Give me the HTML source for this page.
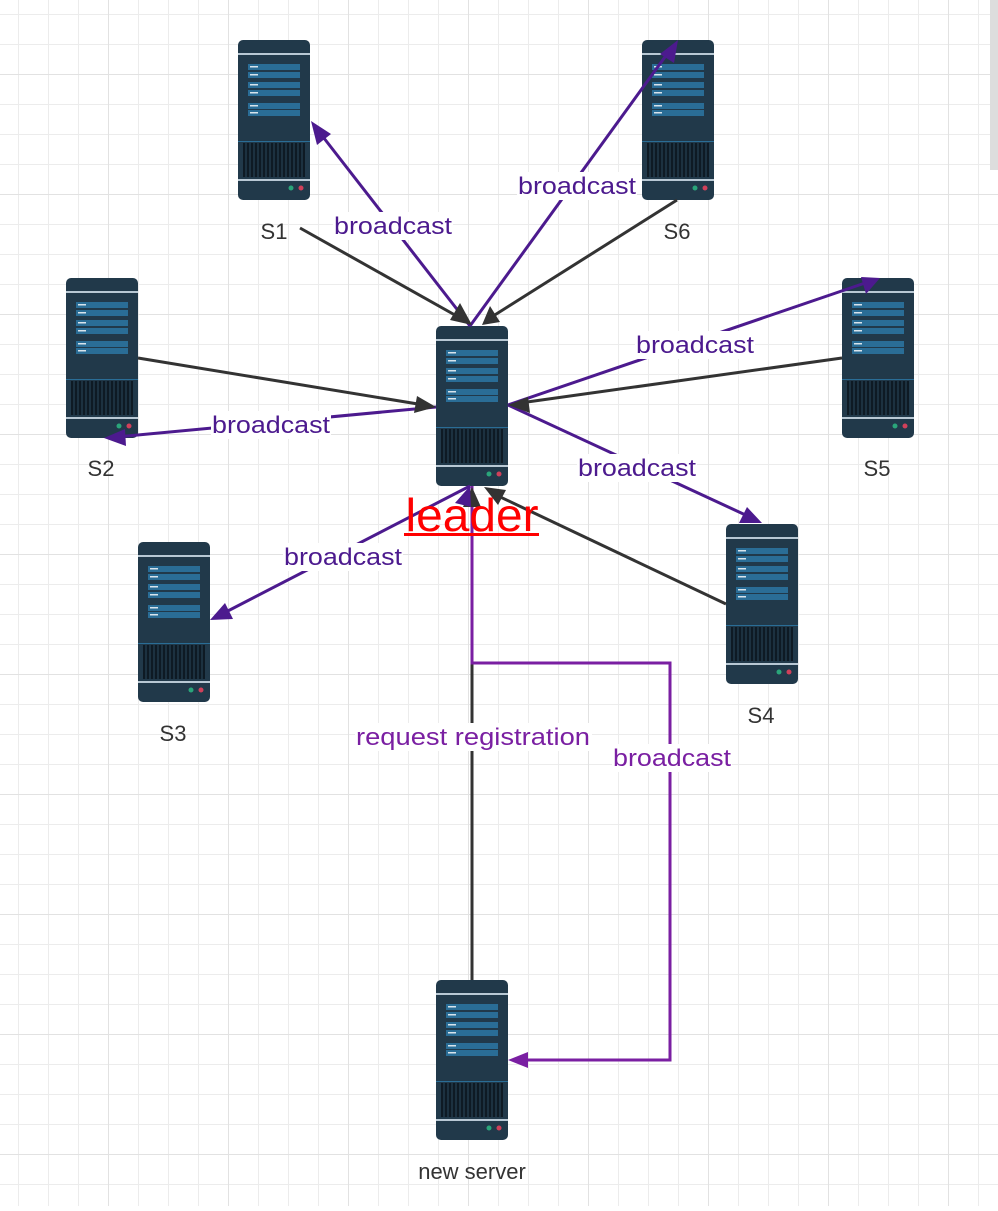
<!DOCTYPE html>
<html><head><meta charset="utf-8"><style>
html,body{margin:0;padding:0;background:#fff;}
body{width:998px;height:1206px;overflow:hidden;font-family:"Liberation Sans",sans-serif;}
</style></head><body>
<svg width="998" height="1206" viewBox="0 0 998 1206" xmlns="http://www.w3.org/2000/svg" font-family="Liberation Sans, sans-serif">
<defs>
<pattern id="g" x="18" y="14" width="30" height="30" patternUnits="userSpaceOnUse">
<path d="M0 0V30M0 0H30" stroke="#ececec" stroke-width="2" fill="none"/>
</pattern>
<pattern id="G" x="108" y="74" width="120" height="120" patternUnits="userSpaceOnUse">
<path d="M0 0V120M0 0H120" stroke="#e2e2e2" stroke-width="2" fill="none"/>
</pattern>
<symbol id="srv" viewBox="0 0 72 160">
<rect x="0" y="0" width="72" height="160" rx="5" fill="#21394a"/>
<rect x="0" y="13" width="72" height="2" fill="#b8c8d4"/>
<g fill="#2a6d96">
<rect x="10" y="24" width="52" height="6"/><rect x="10" y="32" width="52" height="6"/>
<rect x="10" y="42" width="52" height="6"/><rect x="10" y="50" width="52" height="6"/>
<rect x="10" y="63" width="52" height="6"/><rect x="10" y="70" width="52" height="6"/>
</g>
<g fill="#d8e4ec">
<rect x="12" y="26" width="8" height="1.5"/><rect x="12" y="34" width="8" height="1.5"/>
<rect x="12" y="44" width="8" height="1.5"/><rect x="12" y="52" width="8" height="1.5"/>
<rect x="12" y="65" width="8" height="1.5"/><rect x="12" y="72" width="8" height="1.5"/>
</g>
<rect x="0" y="101" width="72" height="1" fill="#2a6d96"/>
<rect x="5" y="103" width="62" height="34" fill="#0e1a24"/>
<g stroke="#21394a" stroke-width="1.5">
<path d="M8 103V137M12 103V137M16 103V137M20 103V137M24 103V137M28 103V137M32 103V137M36 103V137M40 103V137M44 103V137M48 103V137M52 103V137M56 103V137M60 103V137M64 103V137"/>
</g>
<rect x="0" y="139" width="72" height="2" fill="#b8c8d4"/>
<circle cx="53" cy="148" r="2.5" fill="#2aa57a"/>
<circle cx="63" cy="148" r="2.5" fill="#d0405a"/>
</symbol>
</defs>
<rect width="998" height="1206" fill="url(#g)"/>
<rect width="998" height="1206" fill="url(#G)"/>
<rect x="990" y="0" width="8" height="170" fill="#ddd"/>

<use href="#srv" x="238" y="40" width="72" height="160"/>
<use href="#srv" x="642" y="40" width="72" height="160"/>
<use href="#srv" x="66" y="278" width="72" height="160"/>
<use href="#srv" x="842" y="278" width="72" height="160"/>
<use href="#srv" x="436" y="326" width="72" height="160"/>
<use href="#srv" x="138" y="542" width="72" height="160"/>
<use href="#srv" x="726" y="524" width="72" height="160"/>
<use href="#srv" x="436" y="980" width="72" height="160"/>

<g stroke-width="3" fill="none">
<g stroke="#333">
<line x1="300" y1="228" x2="462" y2="319"/>
<line x1="677" y1="200" x2="490" y2="318"/>
<line x1="138" y1="358" x2="424" y2="405"/>
<line x1="842" y1="358" x2="520" y2="403"/>
<line x1="726" y1="604" x2="494" y2="494"/>
<line x1="472" y1="980" x2="472" y2="500"/>
</g>
<g stroke="#4c1a8e">
<line x1="470" y1="326" x2="320" y2="133"/>
<line x1="470" y1="326" x2="670" y2="50"/>
<line x1="436" y1="407" x2="116" y2="437"/>
<line x1="508" y1="405" x2="868" y2="282"/>
<line x1="508" y1="405" x2="752" y2="518"/>
<line x1="470" y1="486" x2="222" y2="614"/>
</g>
<polyline stroke="#7a1fa2" points="472,486 472,663 670,663 670,1060 522,1060"/>
</g>
<g fill="#333">
<polygon points="472,325 450,320 460,303"/>
<polygon points="482,325 490,306 500,322"/>
<polygon points="436,407 414,413 417,396"/>
<polygon points="508,405 528,397 530,413"/>
<polygon points="484,487 506,490 498,505"/>
<polygon points="472,487 463,507 481,507"/>
</g>
<g fill="#4c1a8e">
<polygon points="311,121 331,134 317,145"/>
<polygon points="678,40 674,63 660,54"/>
<polygon points="104,438 125,429 126,446"/>
<polygon points="880,278 866,294 861,277"/>
<polygon points="762,523 739,523 747,507"/>
<polygon points="210,620 225,603 233,619"/>
<polygon points="470,486 455,503 471,507"/>
</g>
<polygon points="508,1060 528,1052 528,1068" fill="#7a1fa2"/>

<g font-size="22" fill="#333" text-anchor="middle">
<text x="274" y="239">S1</text>
<text x="677" y="239">S6</text>
<text x="101" y="476">S2</text>
<text x="877" y="476">S5</text>
<text x="173" y="741">S3</text>
<text x="761" y="723">S4</text>
<text x="472" y="1179">new server</text>
</g>

<g font-size="24" text-anchor="middle" lengthAdjust="spacingAndGlyphs">
<g fill="#fff">
<rect x="333" y="212" width="120" height="28"/>
<rect x="517" y="172" width="120" height="28"/>
<rect x="211" y="411" width="120" height="28"/>
<rect x="635" y="331" width="120" height="28"/>
<rect x="577" y="454" width="120" height="28"/>
<rect x="283" y="543" width="120" height="28"/>
<rect x="612" y="744" width="120" height="28"/>
<rect x="355" y="723" width="237" height="28"/>
</g>
<g fill="#4c1a8e">
<text x="393" y="234" textLength="118" lengthAdjust="spacingAndGlyphs">broadcast</text>
<text x="577" y="194" textLength="118" lengthAdjust="spacingAndGlyphs">broadcast</text>
<text x="271" y="433" textLength="118" lengthAdjust="spacingAndGlyphs">broadcast</text>
<text x="695" y="353" textLength="118" lengthAdjust="spacingAndGlyphs">broadcast</text>
<text x="637" y="476" textLength="118" lengthAdjust="spacingAndGlyphs">broadcast</text>
<text x="343" y="565" textLength="118" lengthAdjust="spacingAndGlyphs">broadcast</text>
</g>
<g fill="#7a1fa2">
<text x="672" y="766" textLength="118" lengthAdjust="spacingAndGlyphs">broadcast</text>
<text x="473" y="745" textLength="234" lengthAdjust="spacingAndGlyphs">request registration</text>
</g>
</g>
<text x="472" y="531" font-size="46" fill="#f00" text-anchor="middle" textLength="133" lengthAdjust="spacingAndGlyphs">leader</text>
<rect x="404" y="533" width="135" height="3" fill="#f00"/>
</svg>
</body></html>
